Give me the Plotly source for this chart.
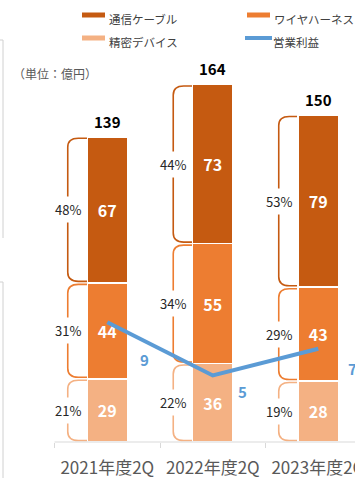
import plotly.graph_objects as go

# ---------------- data ----------------
categories = ["2021年度2Q", "2022年度2Q", "2023年度2Q"]
cable = [67, 73, 79]          # 通信ケーブル
harness = [44, 55, 43]        # ワイヤハーネス
device = [29, 36, 28]         # 精密デバイス
totals = [139, 164, 150]
profit = [9, 5, 7]            # 営業利益
cable_pct = ["48%", "44%", "53%"]
harness_pct = ["31%", "34%", "29%"]
device_pct = ["21%", "22%", "19%"]
series_names = ["通信ケーブル", "ワイヤハーネス", "精密デバイス", "営業利益"]

# ---------------- style ----------------
C_CABLE = "#C55A11"
C_HARN = "#ED7D31"
C_DEV = "#F4B183"
C_LINE = "#5B9BD5"
FONT = "Noto Sans CJK JP"
W, H = 355, 478
MB = 36
PLOT_H = H - MB
XR = [-1.017, 2.348]
PX_X = W / (XR[1] - XR[0])
Y1MAX = 202.75
Y2MAX = 33.2
PX_Y = PLOT_H / Y1MAX
BAR_W = 0.38

x = list(range(len(categories)))

fig = go.Figure()
for vals, col, name in [(device, C_DEV, series_names[2]),
                        (harness, C_HARN, series_names[1]),
                        (cable, C_CABLE, series_names[0])]:
    fig.add_trace(go.Bar(
        x=x, y=vals, name=name, width=BAR_W,
        marker=dict(color=col, line=dict(color="white", width=1.5)),
        text=[str(v) for v in vals], textposition="inside",
        insidetextanchor="middle", textangle=0,
        textfont=dict(family=FONT, size=16, color="white", weight="bold"),
        hoverinfo="skip",
    ))

fig.add_trace(go.Scatter(
    x=x, y=profit, yaxis="y2", mode="lines", name=series_names[3],
    line=dict(color=C_LINE, width=4), hoverinfo="skip",
))

shapes = []
annotations = []

# braces and percentage labels
w_b = 19.5 / PX_X
a_b = 9.0 / PX_X
r_b = 9.0 / PX_Y
inset = 1.5 / PX_Y
for i in x:
    bl = i - BAR_W / 2
    segs = [(0, device[i], C_DEV, device_pct[i]),
            (device[i], device[i] + harness[i], C_HARN, harness_pct[i]),
            (device[i] + harness[i], device[i] + harness[i] + cable[i], C_CABLE, cable_pct[i])]
    for lo, hi, col, pct in segs:
        top = hi - inset
        bot = lo + inset
        xl = bl - w_b
        path = (f"M {bl},{top} L {bl - a_b},{top} Q {xl},{top} {xl},{top - r_b} "
                f"L {xl},{bot + r_b} Q {xl},{bot} {bl - a_b},{bot} L {bl},{bot}")
        shapes.append(dict(type="path", path=path, xref="x", yref="y",
                           line=dict(color=col, width=1.6), layer="below"))
        annotations.append(dict(x=xl, y=(lo + hi) / 2, xref="x", yref="y",
                                text=pct, showarrow=False, bgcolor="white",
                                borderpad=3,
                                font=dict(family=FONT, size=13, color="#262626")))
    # total label
    annotations.append(dict(x=i, y=device[i] + harness[i] + cable[i], xref="x", yref="y",
                            text=f"<b>{totals[i]}</b>", showarrow=False,
                            yanchor="bottom", yshift=3,
                            font=dict(family=FONT, size=15, color="#000000")))

# profit labels
p_off = [(37, -37), (30, -16), (34, -20)]
for i in x:
    annotations.append(dict(x=i, y=profit[i], xref="x", yref="y2",
                            text=f"<b>{profit[i]}</b>", showarrow=False,
                            xshift=p_off[i][0], yshift=p_off[i][1],
                            font=dict(family=FONT, size=15, color=C_LINE)))

def py(p):
    return (PLOT_H - p) / PLOT_H

def px(p):
    return p / W

# axis line
shapes.append(dict(type="line", xref="x", yref="paper", x0=-0.5, x1=XR[1] + 1,
                   y0=0, y1=0, line=dict(color="#D9D9D9", width=1)))

# left panel borders (neighbouring panel edges)
for (xa, ya, xb, yb) in [(0, 40, 3, 40), (3, 40, 3, 238),
                         (0, 282, 3, 282), (3, 282, 3, 480)]:
    shapes.append(dict(type="line", xref="paper", yref="paper",
                       x0=px(xa), x1=px(xb), y0=py(ya), y1=py(yb),
                       line=dict(color="#D0D0D0", width=1)))

# legend
leg = [(series_names[0], C_CABLE, 82, 15, "bar"),
       (series_names[1], C_HARN, 247, 15, "bar"),
       (series_names[2], C_DEV, 82, 38, "bar"),
       (series_names[3], C_LINE, 245, 38, "line")]
for name, col, lx, ly, kind in leg:
    if kind == "bar":
        shapes.append(dict(type="rect", xref="paper", yref="paper",
                           x0=px(lx), x1=px(lx + 23), y0=py(ly - 2.5), y1=py(ly + 2.5),
                           fillcolor=col, line=dict(width=0)))
        tx = lx + 25
    else:
        shapes.append(dict(type="line", xref="paper", yref="paper",
                           x0=px(lx), x1=px(lx + 27), y0=py(ly), y1=py(ly),
                           line=dict(color=col, width=4)))
        tx = lx + 26
    annotations.append(dict(x=px(tx), y=py(ly), xref="paper", yref="paper",
                            text=name, showarrow=False, xanchor="left",
                            yshift=6,
                            font=dict(family=FONT, size=11.5, color="#404040")))

# unit label
annotations.append(dict(x=px(11), y=py(73), xref="paper", yref="paper",
                        text="（単位：億円）", showarrow=False, xanchor="left",
                        yshift=10,
                        font=dict(family=FONT, size=12, color="#595959")))

fig.update_layout(
    width=W, height=H,
    margin=dict(l=0, r=0, t=0, b=MB, autoexpand=False),
    paper_bgcolor="white", plot_bgcolor="white",
    barmode="stack", showlegend=False,
    xaxis=dict(range=XR, tickmode="array", tickvals=x, ticktext=categories,
               ticks="", showgrid=False, zeroline=False, showline=False,
               automargin=False, ticklabeloverflow="allow",
               tickfont=dict(family=FONT, size=17, color="#595959"),
               ticklabelstandoff=14,
               minor=dict(tickmode="array", tickvals=[-0.5, 0.5, 1.5, 2.5],
                          ticks="outside", ticklen=5, tickcolor="#D9D9D9",
                          showgrid=False)),
    yaxis=dict(range=[0, Y1MAX], visible=False, automargin=False),
    yaxis2=dict(range=[0, Y2MAX], overlaying="y", visible=False, automargin=False),
    shapes=shapes, annotations=annotations,
)

fig.write_html("out.html")
